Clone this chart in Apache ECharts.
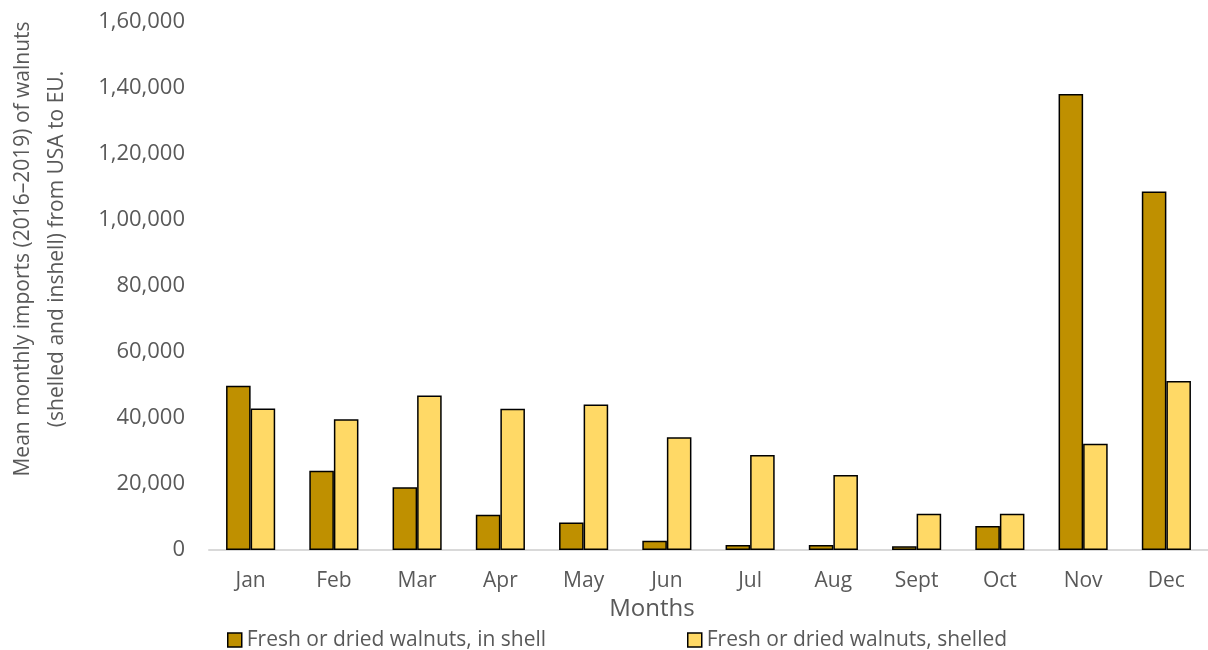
<!DOCTYPE html>
<html>
<head>
<meta charset="utf-8">
<script src="https://cdn.jsdelivr.net/npm/echarts@6/dist/echarts.min.js"></script>
<style>
html,body{margin:0;padding:0;background:#fff;}
#chart{width:1208px;height:650px;}
</style>
</head>
<body>
<div id="chart"></div>
<script>
var months = ['Jan','Feb','Mar','Apr','May','Jun','Jul','Aug','Sept','Oct','Nov','Dec'];
var inShell = [49800, 24000, 19000, 10700, 8300, 2800, 1500, 1500, 1100, 7300, 138200, 108600];
var shelled = [42900, 39600, 46800, 42800, 44100, 34200, 28800, 22700, 11000, 11000, 32200, 51200];
var seriesNames = ['Fresh or dried walnuts, in shell', 'Fresh or dried walnuts, shelled'];
var yTitle = 'Mean monthly imports (2016\u20132019) of walnuts\n(shelled and inshell) from USA to EU.';
var xTitle = 'Months';

function indian(v){
  var s = String(Math.round(v));
  if (s.length <= 3) return s;
  var last3 = s.slice(-3), rest = s.slice(0,-3);
  return rest.replace(/\B(?=(\d{2})+(?!\d))/g, ',') + ',' + last3;
}

var FONT = 'Open Sans';
var GRAY = '#595959';
var chart = echarts.init(document.getElementById('chart'));
chart.setOption({
  animation:false,
  backgroundColor:'#fff',
  textStyle:{fontFamily:FONT},
  grid:{left:209, top:22, width:1003, height:528, containLabel:false},
  legend:[
    {data:[seriesNames[0]], left:227, top:629, padding:0, icon:'rect', itemWidth:14, itemHeight:14, itemGap:0,
     itemStyle:{borderColor:'#000', borderWidth:1.5},
     textStyle:{color:GRAY, fontSize:21, lineHeight:22, fontFamily:FONT}},
    {data:[seriesNames[1]], left:687, top:629, padding:0, icon:'rect', itemWidth:14, itemHeight:14, itemGap:0,
     itemStyle:{borderColor:'#000', borderWidth:1.5},
     textStyle:{color:GRAY, fontSize:21, lineHeight:22, fontFamily:FONT}}
  ],
  xAxis:{
    type:'category', data:months,
    axisLine:{lineStyle:{color:'#D9D9D9', width:2}},
    axisTick:{show:false},
    axisLabel:{color:GRAY, fontSize:21, margin:21, fontFamily:FONT}
  },
  yAxis:{
    type:'value', min:0, max:160000, interval:20000,
    splitLine:{show:false},
    axisLine:{show:false}, axisTick:{show:false},
    axisLabel:{color:GRAY, fontSize:22, margin:24, fontFamily:FONT, formatter:indian}
  },
  graphic:[
    {type:'text', x:40, y:249, rotation:Math.PI/2,
     style:{text:yTitle, fill:GRAY, font:'21px '+FONT, textAlign:'center', textVerticalAlign:'middle', lineHeight:34}},
    {type:'text', x:652, y:609,
     style:{text:xTitle, fill:GRAY, font:'24px '+FONT, textAlign:'center', textVerticalAlign:'middle'}}
  ],
  series:[
    {name:seriesNames[0], type:'bar', data:inShell, barGap:'0%', barCategoryGap:'41%',
     itemStyle:{color:'#BF9000', borderColor:'#000', borderWidth:1.5}},
    {name:seriesNames[1], type:'bar', data:shelled, barGap:'0%', barCategoryGap:'41%',
     itemStyle:{color:'#FFD966', borderColor:'#000', borderWidth:1.5}}
  ]
});
</script>
</body>
</html>
